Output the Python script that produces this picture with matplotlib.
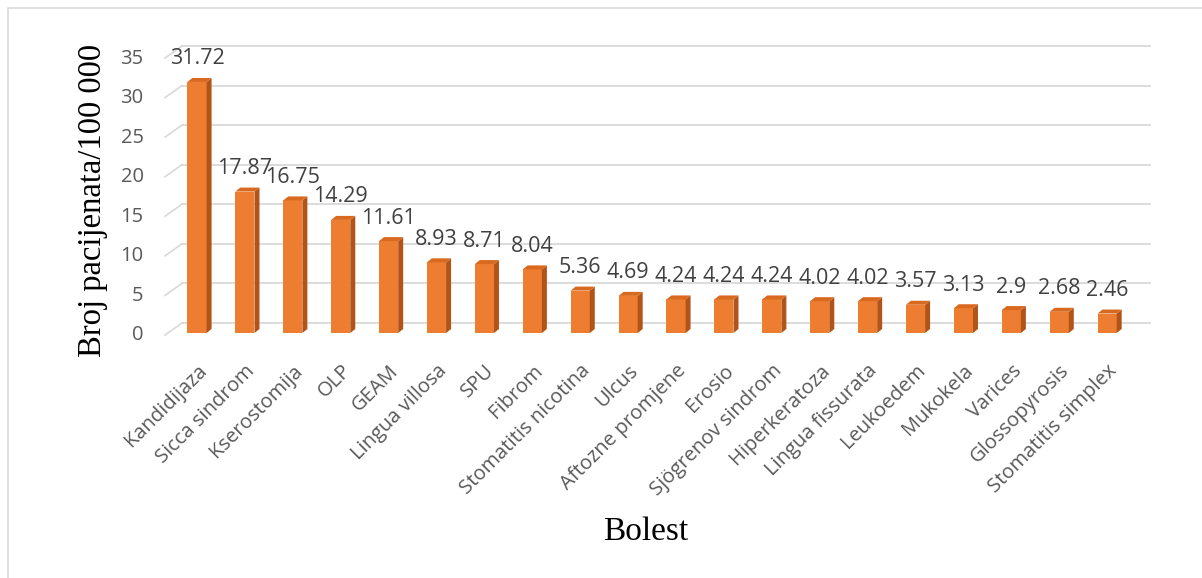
import matplotlib
matplotlib.use("Agg")
import matplotlib.pyplot as plt
import matplotlib.transforms as mtransforms
from matplotlib.patches import Polygon, Rectangle

categories = ["Kandidijaza", "Sicca sindrom", "Kserostomija", "OLP", "GEAM",
              "Lingua villosa", "SPU", "Fibrom", "Stomatitis nicotina", "Ulcus",
              "Aftozne promjene", "Erosio", "Sjögrenov sindrom", "Hiperkeratoza",
              "Lingua fissurata", "Leukoedem", "Mukokela", "Varices",
              "Glossopyrosis", "Stomatitis simplex"]
values = [31.72, 17.87, 16.75, 14.29, 11.61, 8.93, 8.71, 8.04, 5.36, 4.69,
          4.24, 4.24, 4.24, 4.02, 4.02, 3.57, 3.13, 2.9, 2.68, 2.46]
value_labels = ["31.72", "17.87", "16.75", "14.29", "11.61", "8.93", "8.71", "8.04",
                "5.36", "4.69", "4.24", "4.24", "4.24", "4.02", "4.02", "3.57",
                "3.13", "2.9", "2.68", "2.46"]
yticks = [0, 5, 10, 15, 20, 25, 30, 35]

W, H = 1202, 578
fig = plt.figure(figsize=(W / 100, H / 100), dpi=100)

# chart border
fig.patches.append(Rectangle((8 / W, -0.1), 1.2, (H - 8) / H + 0.1,
                             transform=fig.transFigure, fill=False,
                             edgecolor="#D9D9D9", linewidth=1.2))

left_px, right_px = 170, 1128
bottom_px, top_px = 333, 56
ax = fig.add_axes([left_px / W, (H - bottom_px) / H,
                   (right_px - left_px) / W, (bottom_px - top_px) / H])

n = len(values)
xs = list(range(n))
px_per_bar = 47.9
x0 = -(197 - left_px) / px_per_bar
x1 = x0 + (right_px - left_px) / px_per_bar
ax.set_xlim(x0, x1)
ax.set_ylim(0, 35)
for s in ax.spines.values():
    s.set_visible(False)

# back wall gridlines (offset up/right for 3D look) and perspective stubs
off_back = mtransforms.ScaledTranslation(12 / 100, 10 / 100, fig.dpi_scale_trans)
off_front = mtransforms.ScaledTranslation(-5 / 100, -2 / 100, fig.dpi_scale_trans)
ytr = ax.get_yaxis_transform()
for yv in yticks:
    ax.plot([0, 1.01], [yv, yv], transform=ytr + off_back, color="#D9D9D9",
            linewidth=1.3, zorder=0, clip_on=False)
    p_front = (ytr + off_front).transform((0, yv))
    p_back = (ytr + off_back).transform((0, yv))
    ax.plot([p_front[0], p_back[0]], [p_front[1], p_back[1]], transform=None,
            color="#D9D9D9", linewidth=1.2, zorder=0, clip_on=False)

bw = 0.40
dx = 5 / px_per_bar
dy = 4 / ((bottom_px - top_px) / 35)
front_c = "#ED7D31"
side_c = "#B25418"
top_c = "#D9691F"
ax.bar(xs, values, width=bw, color=front_c, zorder=3, linewidth=0)
for x, v in zip(xs, values):
    xl, xr = x - bw / 2, x + bw / 2
    ax.add_patch(Polygon([(xr, 0), (xr + dx, dy), (xr + dx, v + dy), (xr, v)],
                         closed=True, facecolor=side_c, edgecolor="none", zorder=3))
    ax.add_patch(Polygon([(xl, v), (xr, v), (xr + dx, v + dy), (xl + dx, v + dy)],
                         closed=True, facecolor=top_c, edgecolor="none", zorder=3))

for x, v, lab in zip(xs, values, value_labels):
    ax.annotate(lab, (x, v), xytext=(0, 9), textcoords="offset points",
                ha="center", va="bottom", fontsize=15.5, color="#404040",
                family="Open Sans", zorder=5)

ax.set_yticks(yticks)
ax.set_yticklabels([str(t) for t in yticks], fontsize=14.5, color="#595959",
                   family="Open Sans")
ax.tick_params(axis="y", length=0, pad=19)
ax.set_xticks(xs)
ax.set_xticklabels(categories, rotation=45, ha="right", rotation_mode="anchor",
                   fontsize=14.5, color="#595959", family="Open Sans")
ax.tick_params(axis="x", length=0, pad=20)

fig.text(93 / W, (H - 200) / H, "Broj pacijenata/100 000", rotation=90,
         ha="center", va="center", fontsize=23.5, family="Liberation Serif",
         color="black")
fig.text(646 / W, (H - 532) / H, "Bolest", ha="center", va="center",
         fontsize=24, family="Liberation Serif", color="black")

fig.savefig("out.png", dpi=100)
